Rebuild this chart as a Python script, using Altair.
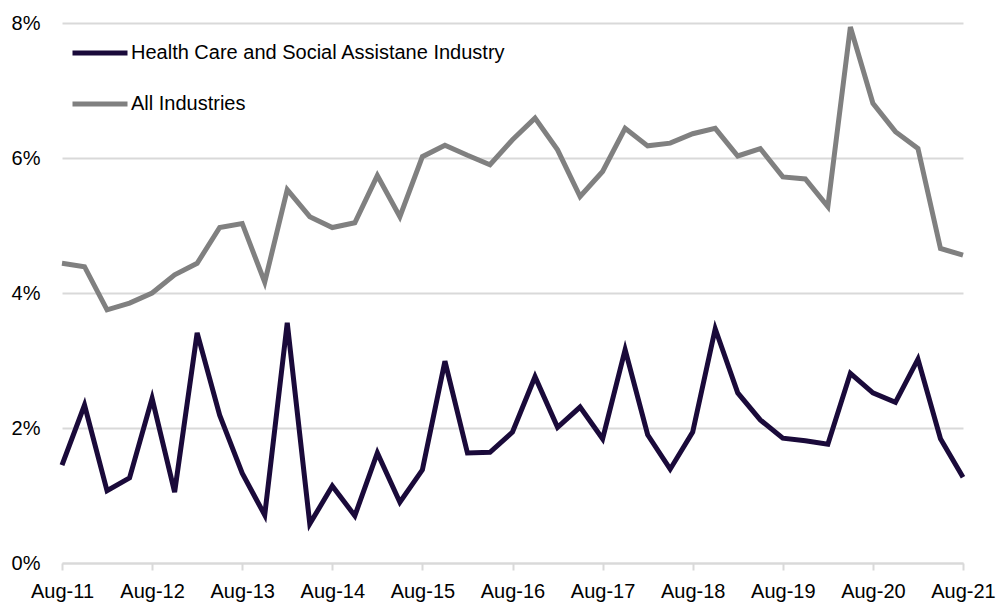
import altair as alt
import pandas as pd

quarters = []
months = ["Aug", "Nov", "Feb", "May"]
for i in range(41):
    m = months[i % 4]
    y = 11 + (i + 1) // 4 if i % 4 != 0 else 11 + i // 4
    quarters.append(f"{m}-{y:02d}")

health = [1.45, 2.34, 1.07, 1.26, 2.44, 1.05, 3.41, 2.19, 1.33, 0.71,
          3.56, 0.58, 1.14, 0.70, 1.63, 0.90, 1.38, 2.99, 1.63, 1.64,
          1.94, 2.76, 2.01, 2.31, 1.84, 3.16, 1.90, 1.39, 1.94, 3.47,
          2.52, 2.12, 1.85, 1.81, 1.76, 2.81, 2.52, 2.38, 3.02, 1.84, 1.27]
allind = [4.44, 4.39, 3.75, 3.85, 4.00, 4.27, 4.44, 4.97, 5.03, 4.16,
          5.53, 5.13, 4.97, 5.04, 5.74, 5.13, 6.02, 6.19, 6.04, 5.90,
          6.27, 6.59, 6.12, 5.43, 5.80, 6.44, 6.18, 6.22, 6.36, 6.44,
          6.03, 6.14, 5.72, 5.69, 5.28, 7.94, 6.81, 6.39, 6.14, 4.66, 4.56]

series_names = ["Health Care and Social Assistane Industry", "All Industries"]
series_colors = ["#1a0a3a", "#808080"]
x_ticks = [q for q in quarters if q.startswith("Aug")]

rows = []
for i, q in enumerate(quarters):
    rows.append({"q": q, "idx": i, "series": series_names[0], "v": health[i] / 100})
    rows.append({"q": q, "idx": i, "series": series_names[1], "v": allind[i] / 100})
df = pd.DataFrame(rows)

FS = 20
chart = alt.Chart(df).mark_line(strokeWidth=5, strokeJoin="miter").encode(
    x=alt.X("q:O", sort=quarters,
            scale=alt.Scale(type="point", padding=0),
            axis=alt.Axis(title=None, values=x_ticks, labelAngle=0,
                          labelFontSize=FS, labelFont="Liberation Sans",
                          labelColor="#000000", labelPadding=11,
                          tickColor="#d9d9d9", tickSize=7, tickWidth=2,
                          domainColor="#d9d9d9", domainWidth=2, grid=False)),
    y=alt.Y("v:Q", scale=alt.Scale(domain=[0, 0.08], nice=False),
            axis=alt.Axis(title=None, format=".0%", values=[0, 0.02, 0.04, 0.06, 0.08],
                          labelFontSize=FS, labelFont="Liberation Sans",
                          labelColor="#000000", labelPadding=22,
                          ticks=False, domain=False,
                          gridColor="#d9d9d9", gridWidth=2)),
    color=alt.Color("series:N",
                    scale=alt.Scale(domain=series_names, range=series_colors),
                    legend=alt.Legend(title=None, orient="none", legendX=8, legendY=0,
                                      symbolType="stroke", symbolSize=3025,
                                      symbolStrokeWidth=5, labelFontSize=FS,
                                      labelFont="Liberation Sans", labelColor="#000000",
                                      labelOffset=1, rowPadding=11, labelLimit=600)),
    detail="series:N",
    order="idx:Q",
).properties(
    width=901, height=540,
    autosize=alt.AutoSizeParams(type="none"),
    padding={"left": 62, "top": 23, "right": 42, "bottom": 42},
).configure_view(stroke=None)

chart.save("out.html", embed_options={"renderer": "svg", "actions": False})
